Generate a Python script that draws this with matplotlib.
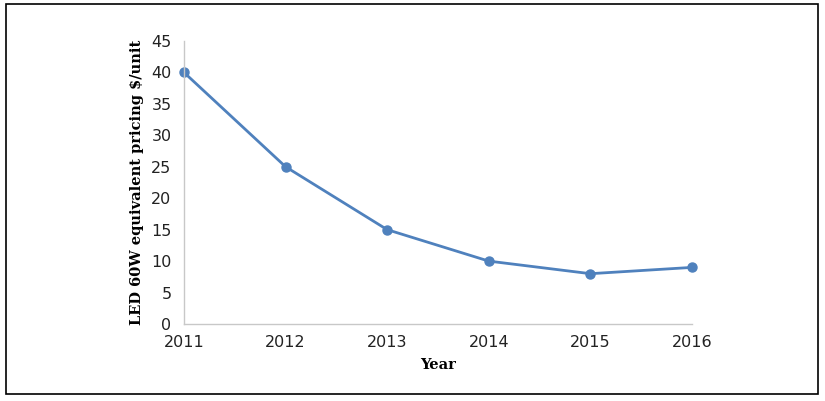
import matplotlib.pyplot as plt
from matplotlib.patches import Rectangle

years = [2011, 2012, 2013, 2014, 2015, 2016]
price = [40, 25, 15, 10, 8, 9]
yticks = [0, 5, 10, 15, 20, 25, 30, 35, 40, 45]

fig = plt.figure(figsize=(8.25, 4.01), dpi=100)
ax = fig.add_axes([184/825, 1-324/401, 508/825, 283/401])

ax.plot(years, price, color='#4f81bd', linewidth=2, marker='o', markersize=6.5,
        clip_on=False)

ax.set_xlim(2011, 2016)
ax.set_ylim(0, 45)
ax.set_xticks(years)
ax.set_yticks(yticks)
ax.tick_params(length=0, labelsize=11.5, colors='#222222', pad=8)
ax.tick_params(axis='y', pad=9)
for s in ['top', 'right']:
    ax.spines[s].set_visible(False)
for s in ['left', 'bottom']:
    ax.spines[s].set_color('#c8c8c8')
    ax.spines[s].set_linewidth(1)

ax.set_xlabel('Year', fontfamily='DejaVu Serif', fontweight='bold', fontsize=10.5, labelpad=6)
ax.set_ylabel('LED 60W equivalent pricing $/unit', fontfamily='DejaVu Serif',
              fontweight='bold', fontsize=10.5, labelpad=5)

# outer frame
fig.patches.append(Rectangle((6/825, 1-394/401), 812/825, 390/401, transform=fig.transFigure,
                             fill=False, edgecolor='black', linewidth=1.2))

fig.savefig('out.png', dpi=100)
